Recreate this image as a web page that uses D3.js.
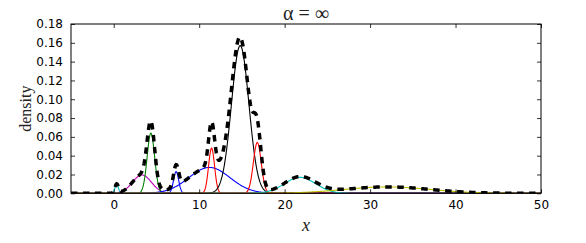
<!DOCTYPE html>
<html><head><meta charset="utf-8">
<script src="https://cdn.jsdelivr.net/npm/d3@7/dist/d3.min.js"></script>
<style>html,body{margin:0;padding:0;background:#fff;}svg{display:block;}</style>
</head><body>
<script>
// Mixture components (mean, std-dev, peak height, colour)
const compMeans  = [0.35, 3.3, 4.35, 7.3, 11.2, 11.45, 14.8, 16.8, 21.8, 32.0];
const compSds    = [0.2, 1.1, 0.44, 0.3, 2.4, 0.35, 1.02, 0.46, 1.82, 5.0];
const compPeaks  = [0.0095, 0.0195, 0.064, 0.023, 0.0275, 0.048, 0.157, 0.054, 0.017, 0.0068];
const compColors = ['#00bfbf','#bf00bf','#008000','#0000ff','#0000ff','#ff0000','#000000','#ff0000','#00bfbf','#bfbf00'];
const xTicks = [0, 10, 20, 30, 40, 50];
const yTicks = [0, 0.02, 0.04, 0.06, 0.08, 0.10, 0.12, 0.14, 0.16, 0.18];
const xDomain = [-5, 50];
const yDomain = [0, 0.18];
const titleText = "α = ∞";

const W = 586, H = 243;
const m = {left: 71, right: 45, top: 24, bottom: 50};
const svg = d3.select("body").append("svg").attr("width", W).attr("height", H);
const x = d3.scaleLinear().domain(xDomain).range([m.left, W - m.right]);
const y = d3.scaleLinear().domain(yDomain).range([H - m.bottom + 0.3, m.top]);

svg.append("defs").append("clipPath").attr("id","clip")
  .append("rect").attr("x", m.left).attr("y", m.top)
  .attr("width", x.range()[1]-m.left).attr("height", y.range()[0]-m.top);

const grid = d3.range(0, 1101).map(i => xDomain[0] + i*(xDomain[1]-xDomain[0])/1100);
const comp = (k, v) => compPeaks[k]*Math.exp(-((v-compMeans[k])**2)/(2*compSds[k]**2));
const line = d3.line().x(d => x(d[0])).y(d => y(d[1]));

const g = svg.append("g").attr("clip-path","url(#clip)");
compMeans.forEach((mu, k) => {
  g.append("path").datum(grid.map(v => [v, comp(k, v)]))
    .attr("d", line).attr("fill","none").attr("stroke", compColors[k]).attr("stroke-width", 1.1);
});
g.append("path").datum(grid.map(v => [v, d3.sum(compMeans, (mu,k) => comp(k, v))]))
  .attr("d", line).attr("fill","none").attr("stroke","#000").attr("stroke-width",3.5)
  .attr("stroke-dasharray","6.5,5.5");

// axes (inward ticks, all sides)
const tl = 4;
const axB = svg.append("g").attr("transform",`translate(0,${y.range()[0]})`)
  .call(d3.axisBottom(x).tickValues(xTicks).tickFormat(d3.format("d")).tickSizeInner(-tl).tickSizeOuter(0).tickPadding(7));
const axT = svg.append("g").attr("transform",`translate(0,${m.top})`)
  .call(d3.axisTop(x).tickValues(xTicks).tickFormat("").tickSizeInner(-tl).tickSizeOuter(0));
const axL = svg.append("g").attr("transform",`translate(${m.left},0)`)
  .call(d3.axisLeft(y).tickValues(yTicks).tickFormat(d3.format(".2f")).tickSizeInner(-tl).tickSizeOuter(0).tickPadding(8));
const axR = svg.append("g").attr("transform",`translate(${x.range()[1]},0)`)
  .call(d3.axisRight(y).tickValues(yTicks).tickFormat("").tickSizeInner(-tl).tickSizeOuter(0));
[axB, axT, axL, axR].forEach(a => {
  a.select(".domain").remove();
  a.selectAll(".tick line").attr("stroke","#000").attr("stroke-width",0.8);
  a.selectAll("text").attr("font-family","DejaVu Sans").attr("font-size","12px").attr("fill","#000");
});
svg.append("rect").attr("x", m.left).attr("y", m.top)
  .attr("width", x.range()[1]-m.left).attr("height", y.range()[0]-m.top)
  .attr("fill","none").attr("stroke","#000").attr("stroke-width",1);

svg.append("text").attr("x", (m.left + x.range()[1])/2).attr("y", 20)
  .attr("text-anchor","middle").attr("font-family","Liberation Serif").attr("font-size","20px")
  .attr("fill","#222").text(titleText);
svg.append("text").attr("transform",`translate(31,${(m.top + y.range()[0])/2}) rotate(-90)`)
  .attr("text-anchor","middle").attr("font-family","Liberation Serif").attr("font-size","16px")
  .attr("fill","#222").text("density");
svg.append("text").attr("x", (m.left + x.range()[1])/2).attr("y", 231)
  .attr("text-anchor","middle").attr("font-family","Liberation Serif").attr("font-style","italic").attr("font-size","18px")
  .attr("fill","#222").text("x");
</script>
</body></html>
